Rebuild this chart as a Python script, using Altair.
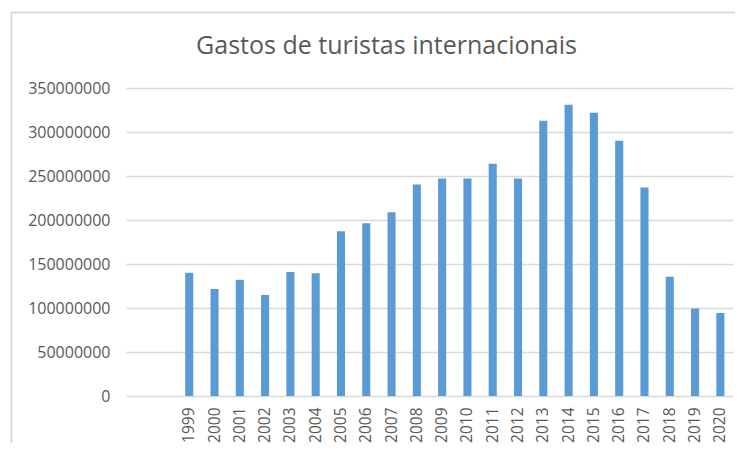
import altair as alt
import pandas as pd

years = list(range(1999, 2021))
gastos = [140000000, 121700000, 132000000, 114900000, 141000000, 139400000,
          187100000, 196200000, 208700000, 240300000, 247300000, 247300000,
          264000000, 247300000, 312900000, 331000000, 322000000, 290000000,
          237000000, 135400000, 99400000, 94400000]
blank_slots = [1997, 1998]
y_ticks = [0, 50000000, 100000000, 150000000, 200000000, 250000000, 300000000, 350000000]
title_text = "Gastos de turistas internacionais"

df = pd.DataFrame({"ano": years, "gastos": gastos})

FONT = "Open Sans"
GRID = "#D9D9D9"
TXT = "#595959"

bars = alt.Chart(df).mark_bar(color="#5B9BD5").encode(
    x=alt.X("ano:O",
            scale=alt.Scale(domain=blank_slots + years, paddingInner=0.68, paddingOuter=0.34),
            axis=alt.Axis(title=None, labelAngle=270, domain=False, ticks=False,
                          labelPadding=11, labelFontSize=15.5, labelColor=TXT, labelFont=FONT,
                          labelExpr="datum.value < 1999 ? '' : datum.label")),
    y=alt.Y("gastos:Q",
            scale=alt.Scale(domain=[0, 350000000], nice=False),
            axis=alt.Axis(title=None, values=y_ticks, format="d", domain=False, ticks=False,
                          gridColor=GRID, gridWidth=1.3, labelPadding=16, labelFontSize=16,
                          labelColor=TXT, labelFont=FONT)),
)

one = pd.DataFrame({"k": [0]})
frame_left = alt.Chart(one).mark_rule(color=GRID, strokeWidth=2).encode(
    x=alt.value(-114.5), y=alt.value(-75.5), y2=alt.value(360))
frame_top = alt.Chart(one).mark_rule(color=GRID, strokeWidth=2).encode(
    x=alt.value(-115.5), x2=alt.value(620), y=alt.value(-75.5))

chart = alt.layer(bars, frame_left, frame_top).properties(
    width=607, height=308,
    title=alt.TitleParams(title_text, font=FONT, fontSize=25, fontWeight="normal",
                          color=TXT, anchor="middle", dx=-43, dy=67, offset=20),
    autosize=alt.AutoSizeParams(type="none"),
    padding={"left": 118, "top": 80, "right": 2, "bottom": 47},
).configure_view(stroke=None)

chart.save("out.html", embed_options={"renderer": "svg", "actions": False})
